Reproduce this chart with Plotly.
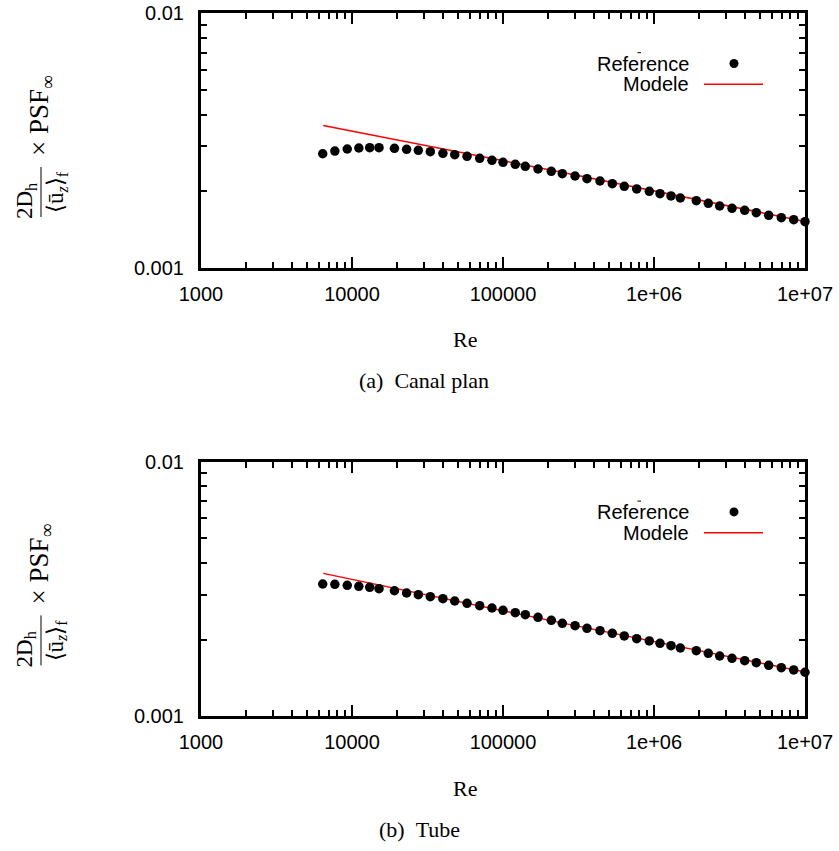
import plotly.graph_objects as go

# ---------------- data ----------------
re_points = [6400, 7700, 9300, 11100, 13100, 15100, 19100, 23000, 27500, 33000,
             40000, 47900, 57800, 70100, 84500, 100000, 120600, 140500, 170500, 208900,
             247000, 300000, 360000, 438900, 529500, 635800, 768200, 930800, 1096000, 1296000,
             1494000, 1906000, 2289000, 2723000, 3286000, 3988000, 4758000, 5748000, 6966000, 8418000,
             10000000]

canal_reference = [0.002805, 0.002875, 0.002928, 0.002955, 0.002963, 0.002963, 0.002947, 0.00292, 0.002894, 0.002858,
                   0.002817, 0.002781, 0.002741, 0.002692, 0.002643, 0.002596, 0.002549, 0.002503, 0.002443, 0.002392,
                   0.002341, 0.002293, 0.002238, 0.002192, 0.002139, 0.002089, 0.002039, 0.001997, 0.001954, 0.001914,
                   0.001879, 0.001834, 0.001791, 0.001748, 0.001712, 0.001681, 0.001645, 0.001607, 0.001572, 0.001544,
                   0.001516]

tube_reference = [0.003306, 0.003296, 0.003267, 0.003237, 0.003208, 0.003168, 0.00311, 0.003047, 0.003, 0.002946,
                  0.002894, 0.002834, 0.002775, 0.002716, 0.00266, 0.002605, 0.002549, 0.002503, 0.002445, 0.00238,
                  0.002316, 0.002266, 0.002213, 0.002166, 0.002116, 0.002065, 0.002015, 0.001974, 0.001933, 0.001891,
                  0.001852, 0.001807, 0.001765, 0.001723, 0.001687, 0.001651, 0.001622, 0.001584, 0.00155, 0.001518,
                  0.001487]

model_re = [6450, 240000, 10000000]
canal_model = [0.00362, 0.00238, 0.00152]
tube_model = [0.00364, 0.00233, 0.00149]

x_tickvals = [1000, 10000, 100000, 1000000, 10000000]
x_ticktext = ["1000", "10000", "100000", "1e+06", "1e+07"]
y_tickvals = [0.001, 0.01]
y_ticktext = ["0.001", "0.01"]

captions = ["(a)\u00a0\u00a0Canal plan", "(b)\u00a0\u00a0Tube"]
legend_labels = ["Reference", "Modele"]

# ---------------- layout helpers ----------------
W, H = 839, 851
def px(x):
    return x / W
def py(y):
    return 1 - y / H

SANS = "Liberation Sans, Arial, sans-serif"
SERIF = "Liberation Serif, Times New Roman, serif"

plot_left, plot_right = 201, 805
panels = [(13.3, 267.7), (461.7, 716.1)]
caption_x = [424, 419]

minor_x = [k * 10 ** e for e in range(3, 7) for k in range(2, 10)]
minor_y = [k * 0.001 for k in range(2, 10)]

fig = go.Figure()

layout = dict(
    width=W, height=H, margin=dict(l=0, r=0, t=0, b=0, autoexpand=False),
    paper_bgcolor="white", plot_bgcolor="white", showlegend=False,
    annotations=[], shapes=[],
)

series = [(canal_reference, canal_model), (tube_reference, tube_model)]

for i, ((top, bot), (ref_vals, mod_vals)) in enumerate(zip(panels, series)):
    xa = "x" if i == 0 else "x2"
    ya = "y" if i == 0 else "y2"
    fig.add_trace(go.Scatter(x=model_re, y=mod_vals, mode="lines",
                             line=dict(color="#ff0000", width=1.5),
                             xaxis=xa, yaxis=ya, name=legend_labels[1]))
    fig.add_trace(go.Scatter(x=re_points, y=ref_vals, mode="markers",
                             marker=dict(color="black", size=9.5),
                             xaxis=xa, yaxis=ya, name=legend_labels[0], cliponaxis=False))

    xkey = "xaxis" if i == 0 else "xaxis2"
    ykey = "yaxis" if i == 0 else "yaxis2"
    layout[xkey] = dict(
        type="log", range=[3, 7], domain=[px(plot_left), px(plot_right)],
        anchor=ya, showgrid=False, zeroline=False, automargin=False,
        showline=True, linecolor="black", linewidth=3, mirror="allticks",
        ticks="inside", ticklen=11, tickwidth=2, tickcolor="black",
        tickvals=x_tickvals, ticktext=x_ticktext, ticklabelstandoff=6,
        tickfont=dict(family=SANS, size=20, color="black"),
        minor=dict(ticks="inside", ticklen=6, tickwidth=2, tickcolor="black", tickvals=minor_x, showgrid=False),
    )
    layout[ykey] = dict(
        type="log", range=[-3, -2], domain=[py(bot), py(top)],
        anchor=xa, showgrid=False, zeroline=False, automargin=False,
        showline=True, linecolor="black", linewidth=3, mirror="allticks",
        ticks="inside", ticklen=11, tickwidth=2, tickcolor="black",
        tickvals=y_tickvals, ticktext=y_ticktext, ticklabelstandoff=10,
        tickfont=dict(family=SANS, size=20, color="black"),
        minor=dict(ticks="inside", ticklen=6, tickwidth=2, tickcolor="black", tickvals=minor_y, showgrid=False),
    )

    off = top - 13.3
    ann = layout["annotations"]
    shp = layout["shapes"]
    # y-axis label (rotated fraction)
    ann.append(dict(text="\u00d7 PSF<sub>\u221e</sub>", x=px(41), y=py(116 + off), xref="paper", yref="paper",
                    showarrow=False, textangle=-90, xanchor="center", yanchor="middle",
                    font=dict(family=SERIF, size=27, color="black")))
    ann.append(dict(text="2D<sub>h</sub>", x=px(26), y=py(201 + off), xref="paper", yref="paper",
                    showarrow=False, textangle=-90, xanchor="center", yanchor="middle",
                    font=dict(family=SERIF, size=23, color="black")))
    ann.append(dict(text="\u27e8\u016b<sub><i>z</i></sub>\u27e9<sub>f</sub>", x=px(57), y=py(192 + off), xref="paper", yref="paper",
                    showarrow=False, textangle=-90, xanchor="center", yanchor="middle",
                    font=dict(family=SERIF, size=23, color="black")))
    shp.append(dict(type="line", xref="paper", yref="paper", x0=px(41), x1=px(41),
                    y0=py(167 + off), y1=py(217 + off), line=dict(color="black", width=1)))
    # x-axis title and caption
    ann.append(dict(text="Re", x=px(465), y=py(bot + 72), xref="paper", yref="paper",
                    showarrow=False, xanchor="center", yanchor="middle",
                    font=dict(family=SERIF, size=22, color="black")))
    ann.append(dict(text=captions[i], x=px(caption_x[i]), y=py(bot + 113), xref="paper", yref="paper",
                    showarrow=False, xanchor="center", yanchor="middle",
                    font=dict(family=SERIF, size=22, color="black")))
    # legend (text on the left, sample on the right)
    ann.append(dict(text=legend_labels[0], x=px(691), y=py(64 + off), xref="paper", yref="paper",
                    showarrow=False, xanchor="right", yanchor="middle",
                    font=dict(family=SANS, size=20, color="black")))
    ann.append(dict(text=legend_labels[1], x=px(691), y=py(84.5 + off), xref="paper", yref="paper",
                    showarrow=False, xanchor="right", yanchor="middle",
                    font=dict(family=SANS, size=20, color="black")))
    shp.append(dict(type="circle", xref="paper", yref="paper", x0=px(729.5), x1=px(738.5),
                    y0=py(59 + off), y1=py(68 + off), fillcolor="black", line=dict(width=0)))
    shp.append(dict(type="line", xref="paper", yref="paper", x0=px(704), x1=px(763),
                    y0=py(84.3 + off), y1=py(84.3 + off), line=dict(color="#ff0000", width=1.5)))
    shp.append(dict(type="line", xref="paper", yref="paper", x0=px(637.5), x1=px(641),
                    y0=py(52.7 + off), y1=py(52.7 + off), line=dict(color="black", width=1)))

fig.update_layout(**layout)
fig.write_html("out.html", config={"displayModeBar": False},
               post_script="document.body.style.margin='0px';document.body.style.overflow='hidden';")
